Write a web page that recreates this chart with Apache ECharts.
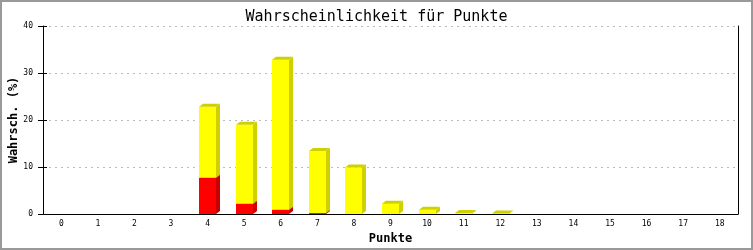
<!DOCTYPE html>
<html>
<head>
<meta charset="utf-8">
<script src="https://cdn.jsdelivr.net/npm/echarts@6/dist/echarts.min.js"></script>
<style>
html,body{margin:0;padding:0;background:#fff;}
#c{width:753px;height:250px;}
</style>
</head>
<body>
<div id="c"></div>
<script>
const categories = ['0','1','2','3','4','5','6','7','8','9','10','11','12','13','14','15','16','17','18'];
const redValues    = [0,0,0,0,7.7,2.2,0.9,0.2,0,0,0,0,0,0,0,0,0,0,0];
const yellowValues = [0,0,0,0,15.1,16.8,31.9,13.2,9.9,2.2,0.9,0.2,0.1,0,0,0,0,0,0];
const yTicks = [0,10,20,30,40];

const titleText = 'Wahrscheinlichkeit für Punkte';
const xName = 'Punkte';
const yName = 'Wahrsch. (%)';

const mono = 'DejaVu Sans Mono';
const BAR_W = 17, DX = 4, DY = 3;

function makeRender(front, dark) {
  return function (params, api) {
    const cat = api.value(0), lo = api.value(1), hi = api.value(2);
    if (hi <= lo) return null;
    const pt = api.coord([cat, hi]);
    const pb = api.coord([cat, lo]);
    const x = Math.round(pt[0] - BAR_W / 2);
    const yt = pt[1], yb = pb[1];
    return {
      type: 'group',
      children: [
        { type: 'rect', shape: { x: x, y: yt, width: BAR_W, height: yb - yt }, style: { fill: front } },
        { type: 'polygon', shape: { points: [[x + BAR_W, yt], [x + BAR_W + DX, yt - DY], [x + BAR_W + DX, yb - DY], [x + BAR_W, yb]] }, style: { fill: dark } },
        { type: 'polygon', shape: { points: [[x, yt], [x + DX, yt - DY], [x + BAR_W + DX, yt - DY], [x + BAR_W, yt]] }, style: { fill: dark } }
      ]
    };
  };
}

const redData = categories.map((c, i) => [i, 0, redValues[i]]);
const yellowData = categories.map((c, i) => [i, redValues[i], redValues[i] + yellowValues[i]]);

const chart = echarts.init(document.getElementById('c'), null, { renderer: 'canvas' });
chart.setOption({
  animation: false,
  backgroundColor: '#fff',
  title: {
    text: titleText, left: 'center', top: 5,
    textStyle: { fontFamily: mono, fontSize: 15, fontWeight: 'normal', color: '#000' }
  },
  grid: { left: 43, right: 15, top: 26, bottom: 36, containLabel: false, outerBoundsMode: 'none' },
  xAxis: {
    type: 'category', data: categories, boundaryGap: true,
    name: xName, nameLocation: 'middle', nameGap: 19, nameMoveOverlap: false,
    nameTextStyle: { fontFamily: mono, fontSize: 12, fontWeight: 'bold', color: '#000' },
    axisLine: { lineStyle: { color: '#000', width: 1 } },
    axisTick: { show: false },
    axisLabel: { fontFamily: mono, fontSize: 8, color: '#000', margin: 6 },
    splitLine: { show: false }
  },
  yAxis: [
    {
      type: 'value', min: 0, max: 40, interval: 10, position: 'left',
      name: yName, nameLocation: 'middle', nameGap: 23, nameMoveOverlap: false,
      nameTextStyle: { fontFamily: mono, fontSize: 12, fontWeight: 'bold', color: '#000' },
      axisLine: { show: true, lineStyle: { color: '#000', width: 1 } },
      axisTick: { show: true, length: 5, lineStyle: { color: '#000' } },
      axisLabel: { fontFamily: mono, fontSize: 8, color: '#000', margin: 10,
        formatter: v => yTicks.indexOf(v) >= 0 ? String(v) : '' },
      splitLine: { show: true, lineStyle: { color: '#bbb', type: [2, 4], width: 1 } }
    },
    {
      type: 'value', min: 0, max: 40, interval: 10, position: 'left', offset: 0,
      axisLine: { show: false },
      axisTick: { show: true, inside: true, length: 4, lineStyle: { color: '#000' } },
      axisLabel: { show: false }, splitLine: { show: false }
    },
    {
      type: 'value', min: 0, max: 40, interval: 10, position: 'right',
      axisLine: { show: true, lineStyle: { color: '#000', width: 1 } },
      axisTick: { show: false }, axisLabel: { show: false }, splitLine: { show: false }
    }
  ],
  graphic: [{
    type: 'rect', shape: { x: 1, y: 1, width: 751, height: 248 },
    style: { fill: 'none', stroke: '#999', lineWidth: 2 }, silent: true, z: 100
  }],
  series: [
    { type: 'custom', renderItem: makeRender('#ff0000', '#c80000'), data: redData, encode: { x: 0, y: [1, 2] }, z: 2 },
    { type: 'custom', renderItem: makeRender('#ffff00', '#d0d000'), data: yellowData, encode: { x: 0, y: [1, 2] }, z: 3 }
  ]
});
</script>
</body>
</html>
